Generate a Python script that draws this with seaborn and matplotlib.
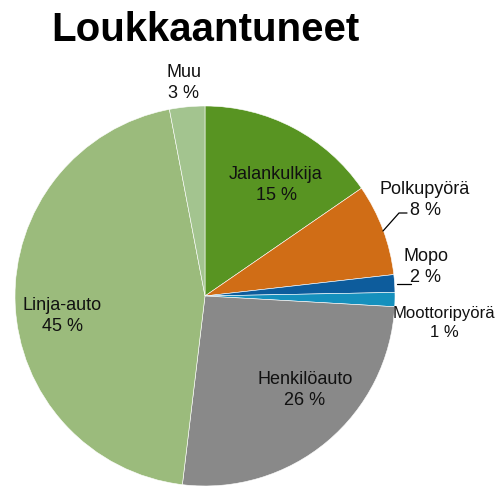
import matplotlib
matplotlib.use("Agg")
import matplotlib.pyplot as plt
import seaborn as sns

sns.set_theme(style="white")
plt.rcParams['font.family'] = ['Liberation Sans', 'DejaVu Sans']

categories = ["Jalankulkija", "Polkupyörä", "Mopo", "Moottoripyörä",
              "Henkilöauto", "Linja-auto", "Muu"]
values = [15.4, 7.8, 1.5, 1.2, 26.0, 45.1, 3.0]
colors = ["#589422", "#d06d16", "#0d5c9c", "#1590bd",
          "#898989", "#9bbb7c", "#a3c48f"]

fig = plt.figure(figsize=(4.99, 4.86), dpi=100)
W, H = 499, 486
cx, cy, R = 205, 296, 190
ax = fig.add_axes([(cx - R) / W, (H - cy - R) / H, 2 * R / W, 2 * R / H])
ax.pie(values, colors=colors, startangle=90, counterclock=False, radius=1,
       wedgeprops=dict(edgecolor="white", linewidth=0.4))
ax.set_xlim(-1, 1)
ax.set_ylim(-1, 1)
ax.set_aspect("equal")
ax.axis("off")

# label positions (pixel) -> data
label_px = [(276, 185), (425, 200), (426, 267), (444, 323),
            (305, 390), (62, 316), (184, 83)]
label_fs = [13, 13, 13, 12, 13, 13, 13]
for cat, v, (px, py), fs in zip(categories, values, label_px, label_fs):
    x = (px - cx) / R
    y = (cy - py) / R
    ax.text(x, y, f"{cat}\n{round(v)} %", ha="center", va="center",
            fontsize=fs, color="#111111", linespacing=1.3, clip_on=False)

# leader lines
def p(px, py):
    return ((px - cx) / R, (cy - py) / R)
l1 = [p(383, 231), p(399, 213), p(407, 213)]
ax.plot([a[0] for a in l1], [a[1] for a in l1], color="black", lw=0.9, clip_on=False)
l2 = [p(397, 284), p(411, 284)]
ax.plot([a[0] for a in l2], [a[1] for a in l2], color="black", lw=0.9, clip_on=False)

fig.text(cx / W, 1 - 30 / H, "Loukkaantuneet", ha="center", va="center",
         fontsize=29, fontweight="bold", color="black")

fig.savefig("out.png", dpi=100, facecolor="white")
